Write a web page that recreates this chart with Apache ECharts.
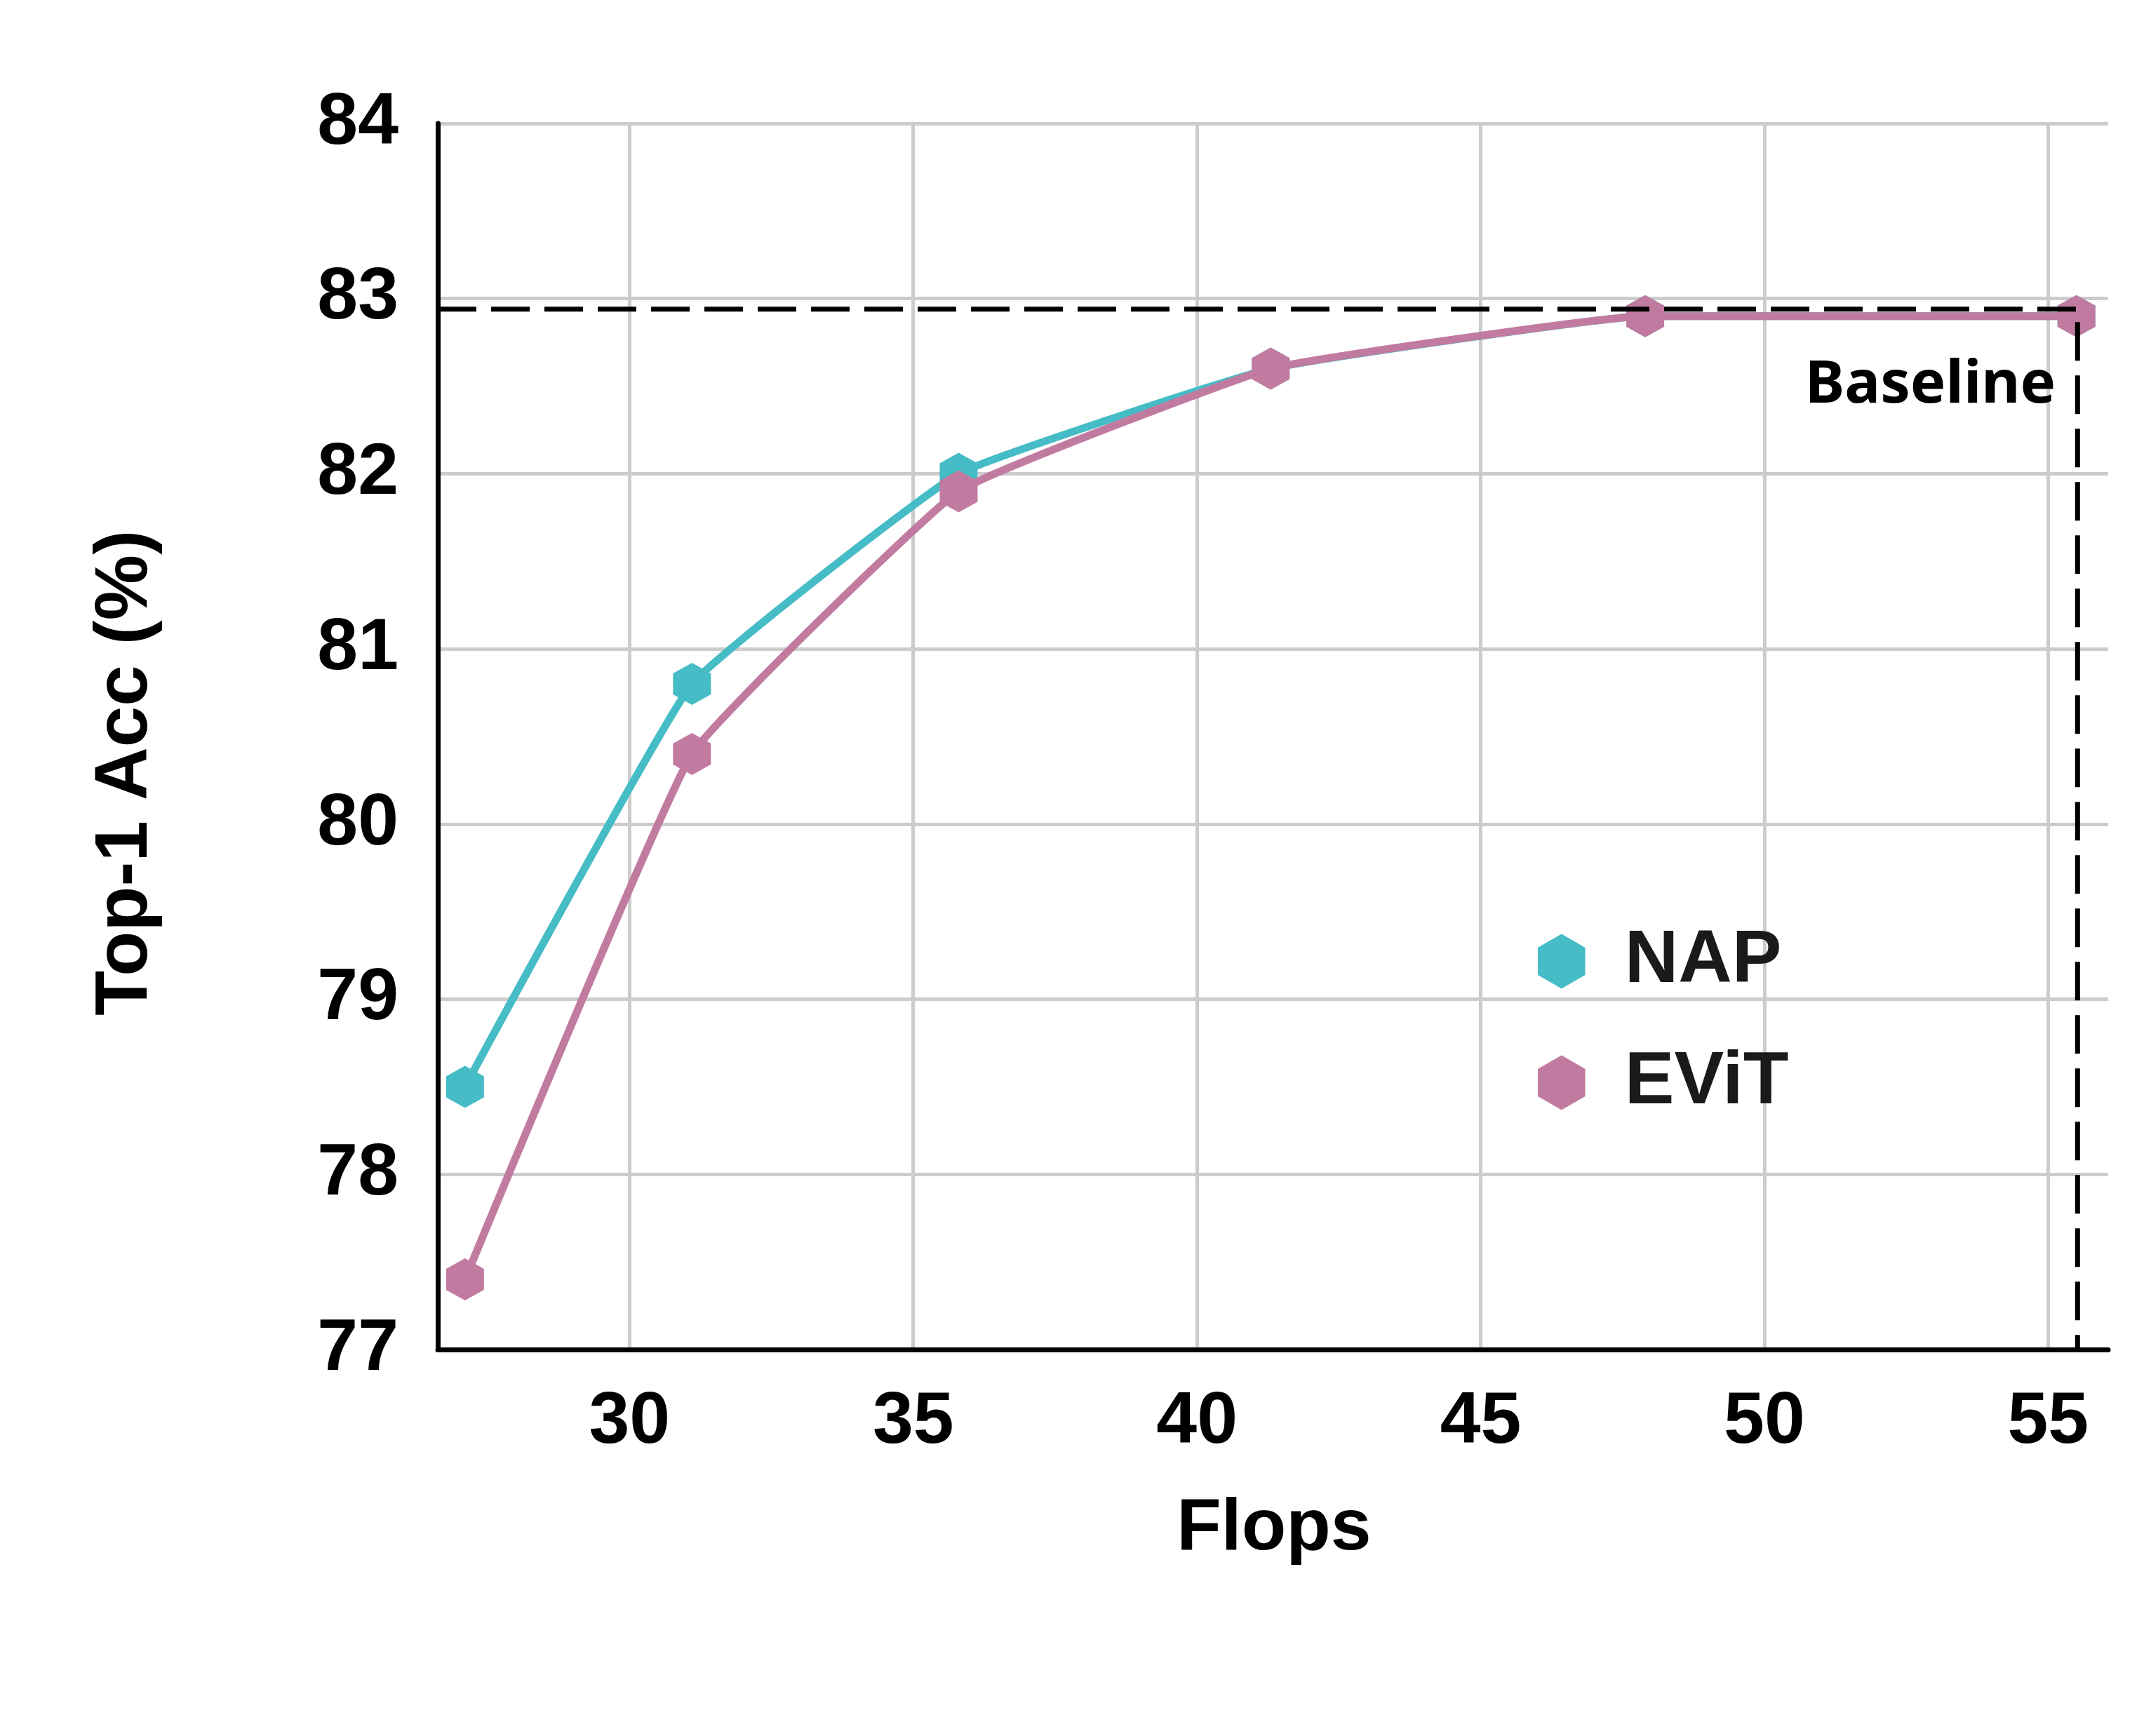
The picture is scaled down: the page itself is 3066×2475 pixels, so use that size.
<!DOCTYPE html>
<html><head><meta charset="utf-8">
<script src="https://cdn.jsdelivr.net/npm/echarts@6/dist/echarts.min.js"></script>
<style>html,body{margin:0;padding:0;background:#fff}#c{width:3066px;height:2475px}</style>
</head><body><div id="c"></div>
<script>
// ---- data ----
const flops = [27.1, 31.1, 35.8, 41.3, 47.9, 55.5];
const napAcc = [78.5, 80.8, 82.0, 82.6, 82.9, 82.9];
const evitAcc = [77.4, 80.4, 81.9, 82.6, 82.9, 82.9];
const xTicks = [30, 35, 40, 45, 50, 55];
const yTicks = [77, 78, 79, 80, 81, 82, 83, 84];
const baselineAcc = 82.94;
const baselineFlops = 55.52;
const seriesNames = ['NAP', 'EViT'];

// ---- styles ----
const FONT = '"Liberation Sans", Arial, sans-serif';
const hex = 'path://M50,0 L93.3,25 L93.3,75 L50,100 L6.7,75 L6.7,25 Z';
const colors = ['#45BCC6', '#C27BA0'];
const xMin = 26.62, xMax = 56.06;

const chart = echarts.init(document.getElementById('c'), null, {renderer: 'canvas'});
const pts = (ys) => flops.map((x, i) => [x, ys[i]]);

chart.setOption({
  animation: false,
  backgroundColor: '#ffffff',
  grid: {left: 624, top: 176, right: 61, bottom: 551, containLabel: false},
  legend: {
    orient: 'vertical', left: 2187, top: 1312,
    itemWidth: 70, itemHeight: 78, itemGap: 66, icon: hex,
    data: seriesNames,
    textStyle: {fontSize: 106, fontWeight: 'bold', fontFamily: FONT, color: '#1a1a1a', lineHeight: 107, padding: [0, 0, 0, 50]}
  },
  xAxis: {
    type: 'value', min: xMin, max: xMax,
    axisLine: {show: true, lineStyle: {color: '#000', width: 7}},
    axisTick: {show: false, customValues: xTicks},
    axisLabel: {customValues: xTicks, fontSize: 104, fontWeight: 'bold', fontFamily: FONT, color: '#000', margin: 52},
    splitLine: {show: true, lineStyle: {color: '#CCCCCC', width: 5}}
  },
  yAxis: {
    type: 'value', min: yTicks[0], max: yTicks[yTicks.length - 1], interval: 1,
    axisLine: {show: true, lineStyle: {color: '#000', width: 7}},
    axisTick: {show: false},
    axisLabel: {fontSize: 104, fontWeight: 'bold', fontFamily: FONT, color: '#000', margin: 56},
    splitLine: {show: true, lineStyle: {color: '#CCCCCC', width: 5}}
  },
  series: [
    {name: seriesNames[0], type: 'line', data: pts(napAcc), symbol: hex, symbolSize: [54, 60], smooth: 0.1,
     lineStyle: {color: colors[0], width: 11}, itemStyle: {color: colors[0]}, z: 3},
    {name: seriesNames[1], type: 'line', data: pts(evitAcc), symbol: hex, symbolSize: [54, 60], smooth: 0.1,
     lineStyle: {color: colors[1], width: 11}, itemStyle: {color: colors[1]}, z: 4},
    {name: 'Baseline', type: 'line', silent: true, symbol: 'none', z: 6,
     data: [[xMin, baselineAcc], [baselineFlops, baselineAcc], [baselineFlops, yTicks[0]]],
     lineStyle: {color: '#000', width: 7, type: [55, 21]}}
  ]
});

const corner = chart.convertToPixel({gridIndex: 0}, [baselineFlops, baselineAcc]);
chart.setOption({
  graphic: [
    {type: 'text', x: 180, y: 1102, rotation: Math.PI / 2,
     style: {text: 'Top-1 Acc (%)', font: 'bold 105px ' + FONT, fill: '#000', align: 'center', verticalAlign: 'middle'}},
    {type: 'text', x: 1816, y: 2180,
     style: {text: 'Flops', font: 'bold 104px ' + FONT, fill: '#000', align: 'center', verticalAlign: 'middle'}},
    {type: 'text', x: corner[0] - 31, y: corner[1] + 109,
     style: {text: 'Baseline', font: 'bold 85px "Noto Sans", sans-serif', fill: '#000', align: 'right', verticalAlign: 'middle'}}
  ]
});
</script>
</body></html>
